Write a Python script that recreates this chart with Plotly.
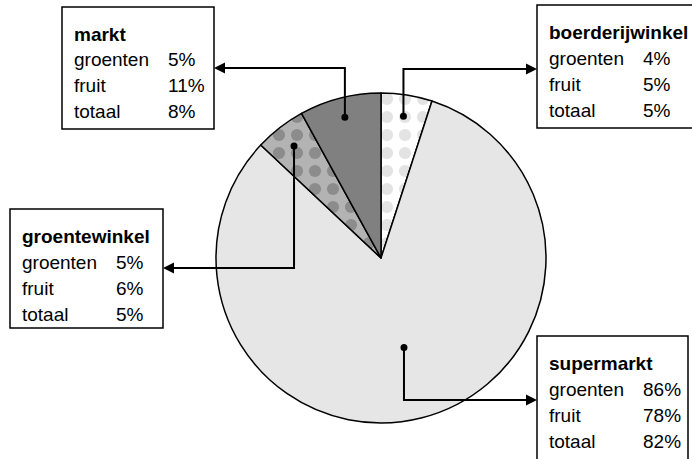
import math
import plotly.graph_objects as go

# ---- data ----
categories = ["boerderijwinkel", "supermarkt", "groentewinkel", "markt"]
totaal = [5, 82, 5, 8]
groenten = [4, 86, 5, 5]
fruit = [5, 78, 6, 11]
row_labels = ["groenten", "fruit", "totaal"]

# ---- styling ----
W, H = 692, 459
colors = ["#ffffff", "#e6e6e6", "#b3b3b3", "#808080"]
pat_shape = [".", "", ".", ""]
pat_fg = ["#e3e3e3", "#e6e6e6", "#8c8c8c", "#808080"]
pat_bg = ["#ffffff", "#e6e6e6", "#b3b3b3", "#808080"]
dot_r_frac = [0.87, 0.56, 0.86, 0.88]

# pie geometry in pixels
cx, cy, R = 381, 258, 165

def px(x):
    return x / W

def py(y):
    return 1 - y / H

boxes = {
    "markt": dict(x0=62, y0=7, x1=214, y1=129, ay=68, side="r"),
    "boerderijwinkel": dict(x0=537, y0=5, x1=694, y1=128, ay=69, side="l"),
    "groentewinkel": dict(x0=10, y0=209, x1=163, y1=328, ay=268, side="r"),
    "supermarkt": dict(x0=537, y0=336, x1=688, y1=462, ay=400, side="l"),
}

fig = go.Figure()
fig.add_trace(go.Pie(
    labels=categories,
    values=totaal,
    sort=False,
    direction="clockwise",
    rotation=0,
    textinfo="none",
    hoverinfo="label+percent",
    showlegend=False,
    marker=dict(
        colors=colors,
        line=dict(color="#000000", width=1.5),
        pattern=dict(shape=pat_shape, fgcolor=pat_fg, bgcolor=pat_bg,
                     size=18, solidity=0.36, fillmode="replace"),
    ),
    domain=dict(x=[px(cx - R), px(cx + R)], y=[py(cy + R), py(cy - R)]),
))

shapes = []
annotations = []
total = sum(totaal)
cum = 0
font = "Liberation Sans, Arial, sans-serif"
fs = 19
for i, cat in enumerate(categories):
    mid = (cum + totaal[i] / 2) / total * 2 * math.pi
    cum += totaal[i]
    r = R * dot_r_frac[i]
    dx = cx + r * math.sin(mid)
    dy = cy - r * math.cos(mid)
    b = boxes[cat]
    ex = b["x1"] if b["side"] == "r" else b["x0"]
    shapes.append(dict(type="circle", xref="paper", yref="paper",
                       x0=px(dx - 3.5), x1=px(dx + 3.5), y0=py(dy + 3.5), y1=py(dy - 3.5),
                       fillcolor="black", line=dict(color="black", width=0)))
    sgn = 1 if b["side"] == "r" else -1
    shapes.append(dict(type="path", xref="paper", yref="paper",
                       path=f"M {px(dx)},{py(dy)} L {px(dx)},{py(b['ay'])} L {px(ex + sgn*8)},{py(b['ay'])}",
                       line=dict(color="black", width=2)))
    annotations.append(dict(x=px(ex), y=py(b["ay"]), xref="paper", yref="paper",
                            ax=sgn * 14, ay=0, text="", showarrow=True,
                            arrowhead=2, arrowsize=1.1, arrowwidth=2, arrowcolor="black"))
    shapes.append(dict(type="rect", xref="paper", yref="paper",
                       x0=px(b["x0"]), x1=px(b["x1"]), y0=py(b["y1"]), y1=py(b["y0"]),
                       line=dict(color="black", width=1.5), fillcolor="white", layer="above"))
    lx = b["x0"] + 10
    vx = b["x0"] + 104
    ty = b["y0"] + 27
    annotations.append(dict(x=px(lx), y=py(ty), xref="paper", yref="paper",
                            xanchor="left", yanchor="middle", showarrow=False,
                            text=f"<b>{cat}</b>", font=dict(family=font, size=fs, color="black")))
    vals = [groenten[i], fruit[i], totaal[i]]
    for j, lab in enumerate(row_labels):
        yy = ty + 26 * (j + 1)
        annotations.append(dict(x=px(lx), y=py(yy), xref="paper", yref="paper",
                                xanchor="left", yanchor="middle", showarrow=False,
                                text=lab, font=dict(family=font, size=fs, color="black")))
        annotations.append(dict(x=px(vx), y=py(yy), xref="paper", yref="paper",
                                xanchor="left", yanchor="middle", showarrow=False,
                                text=f"{vals[j]}%", font=dict(family=font, size=fs, color="black")))

fig.update_layout(
    width=W, height=H,
    margin=dict(l=0, r=0, t=0, b=0),
    paper_bgcolor="white", plot_bgcolor="white",
    shapes=shapes, annotations=annotations,
)
fig.write_html("out.html", config={"displayModeBar": False},
               post_script="document.body.style.margin='0';document.body.style.overflow='hidden';")
